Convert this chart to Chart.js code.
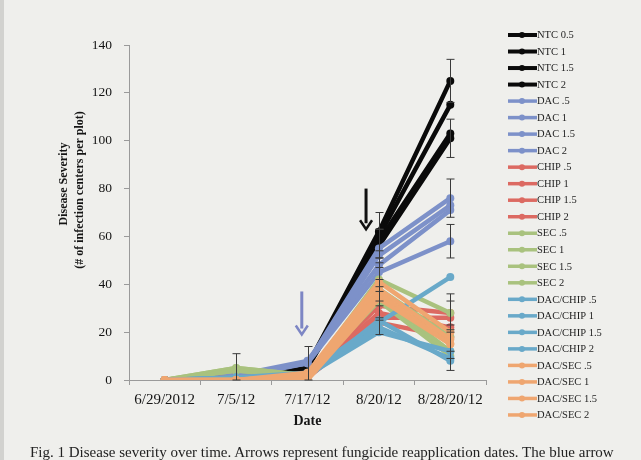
<!DOCTYPE html>
<html>
<head>
<meta charset="utf-8">
<script src="https://cdn.jsdelivr.net/npm/chart.js@4.4.0/dist/chart.umd.min.js"></script>
<style>
  html, body { margin: 0; padding: 0; background: #efefec; }
  #wrap { position: relative; width: 641px; height: 460px; overflow: hidden; background: #efefec; border-left: 4px solid #d2d2cf; box-sizing: border-box; }
  #chart { position: absolute; left: -4px; top: 0; }
  #caption { position: absolute; left: 26px; top: 444px; font: 15px/17px "Liberation Serif", serif; color: #222; white-space: nowrap; }
</style>
</head>
<body>
<div id="wrap">
  <canvas id="chart" width="641" height="460"></canvas>
  <div id="caption">Fig. 1 Disease severity over time. Arrows represent fungicide reapplication dates. The blue arrow</div>
</div>
<script>
// dates on the x axis
const dates = ['6/29/2012', '7/5/12', '7/17/12', '8/20/12', '8/28/20/12'];
const yTicks = [0, 20, 40, 60, 80, 100, 120, 140];

// disease severity per treatment (# of infection centers per plot)
const ntc05 = [0, 1, 6, 62, 125];
const ntc1 = [0, 1, 5, 60, 115];
const ntc15 = [0, 1, 6, 58, 103];
const ntc2 = [0, 1, 5, 56, 101];
const dac05 = [0, 2, 7, 55, 76];
const dac1 = [0, 2, 7, 52, 73];
const dac15 = [0, 2, 8, 48, 71];
const dac2 = [0, 1, 7, 45, 58];
const chip05 = [0, 1, 2, 31, 28];
const chip1 = [0, 1, 1, 26, 26];
const chip15 = [0, 1, 2, 28, 22];
const chip2 = [0, 1, 1, 24, 18];
const sec05 = [0, 5, 2, 42, 28];
const sec1 = [0, 5, 2, 38, 18];
const sec15 = [0, 4, 1, 35, 12];
const sec2 = [0, 4, 2, 33, 10];
const dacChip05 = [0, 1, 3, 24, 43];
const dacChip1 = [0, 1, 2, 20, 12];
const dacChip15 = [0, 1, 2, 22, 9];
const dacChip2 = [0, 1, 1, 25, 8];
const dacSec05 = [0, 0, 3, 41, 20];
const dacSec1 = [0, 0, 2, 38, 17];
const dacSec15 = [0, 0, 2, 36, 15];
const dacSec2 = [0, 0, 0, 34, 15];

// error bars (+/-) for some treatments
const errNtc05 = [0, 0, 0, 8, 9];
const errNtc2 = [0, 0, 0, 7, 8];
const errDac05 = [0, 0, 7, 8, 8];
const errDac2 = [0, 0, 0, 6, 7];
const errChip05 = [0, 0, 0, 6, 5];
const errSec05 = [0, 6, 0, 9, 8];
const errDacChip2 = [0, 0, 0, 6, 4];
const errDacSec2 = [0, 0, 0, 8, 6];

// arrows: [category position, value top, value tip]
const blackArrow = [2.82, 80, 63];
const blueArrow = [1.92, 37, 19];

const yTitle = ['Disease Severity', '(# of infection centers per plot)'];

const colors = {
    ntc: '#0a0a0a',
    dac: '#7d91c9',
    chip: '#dc6a62',
    sec: '#a9c27e',
    dacChip: '#69a9c9',
    dacSec: '#efa670'
};

const series = [
    ['NTC 0.5', ntc05, colors.ntc, errNtc05],
    ['NTC 1', ntc1, colors.ntc],
    ['NTC 1.5', ntc15, colors.ntc],
    ['NTC 2', ntc2, colors.ntc, errNtc2],
    ['DAC .5', dac05, colors.dac, errDac05],
    ['DAC 1', dac1, colors.dac],
    ['DAC 1.5', dac15, colors.dac],
    ['DAC 2', dac2, colors.dac, errDac2],
    ['CHIP .5', chip05, colors.chip, errChip05],
    ['CHIP 1', chip1, colors.chip],
    ['CHIP 1.5', chip15, colors.chip],
    ['CHIP 2', chip2, colors.chip],
    ['SEC .5', sec05, colors.sec, errSec05],
    ['SEC 1', sec1, colors.sec],
    ['SEC 1.5', sec15, colors.sec],
    ['SEC 2', sec2, colors.sec],
    ['DAC/CHIP .5', dacChip05, colors.dacChip],
    ['DAC/CHIP 1', dacChip1, colors.dacChip],
    ['DAC/CHIP 1.5', dacChip15, colors.dacChip],
    ['DAC/CHIP 2', dacChip2, colors.dacChip, errDacChip2],
    ['DAC/SEC .5', dacSec05, colors.dacSec],
    ['DAC/SEC 1', dacSec1, colors.dacSec],
    ['DAC/SEC 1.5', dacSec15, colors.dacSec],
    ['DAC/SEC 2', dacSec2, colors.dacSec, errDacSec2]
];

const serif = '"Liberation Serif", "Times New Roman", serif';

// error bars drawn with the chart scales
const errorBarPlugin = {
    id: 'errorBars',
    afterDatasetsDraw(chart) {
        const {ctx, scales: {x, y}} = chart;
        ctx.save();
        ctx.strokeStyle = '#3a3a3a';
        ctx.lineWidth = 1;
        chart.data.datasets.forEach(ds => {
            if (!ds.errors) return;
            ds.data.forEach((v, j) => {
                const e = ds.errors[j];
                if (!e) return;
                const px = Math.round(x.getPixelForValue(j)) + 0.5;
                const top = y.getPixelForValue(v + e);
                const bot = y.getPixelForValue(Math.max(v - e, 0));
                ctx.beginPath();
                ctx.moveTo(px, top); ctx.lineTo(px, bot);
                ctx.moveTo(px - 4, top); ctx.lineTo(px + 4, top);
                ctx.moveTo(px - 4, bot); ctx.lineTo(px + 4, bot);
                ctx.stroke();
            });
        });
        ctx.restore();
    }
};

// reapplication arrows
function drawArrow(chart, def, color) {
    const {ctx, scales: {x, y}} = chart;
    const px = x.getPixelForValue(def[0]);
    const y1 = y.getPixelForValue(def[1]);
    const y2 = y.getPixelForValue(def[2]);
    ctx.save();
    ctx.strokeStyle = color;
    ctx.lineWidth = 3;
    ctx.beginPath();
    ctx.moveTo(px, y1); ctx.lineTo(px, y2 - 6);
    ctx.stroke();
    ctx.beginPath();
    ctx.moveTo(px - 6, y2 - 9);
    ctx.lineTo(px, y2);
    ctx.lineTo(px + 6, y2 - 9);
    ctx.lineWidth = 2.5;
    ctx.stroke();
    ctx.restore();
}

const arrowPlugin = {
    id: 'arrows',
    afterDraw(chart) {
        drawArrow(chart, blackArrow, '#111');
        drawArrow(chart, blueArrow, '#7d86c4');
    }
};

// rotated two-line y title, sitting a bit above the middle like the original
const yTitlePlugin = {
    id: 'yTitle',
    afterDraw(chart) {
        const ctx = chart.ctx;
        ctx.save();
        ctx.font = 'bold 12px ' + serif;
        ctx.fillStyle = '#151515';
        ctx.textAlign = 'center';
        ctx.textBaseline = 'middle';
        ctx.translate(64, 184);
        ctx.rotate(-Math.PI / 2);
        ctx.fillText(yTitle[0], 0, 0);
        ctx.fillText(yTitle[1], -6, 16);
        ctx.restore();
    }
};

// legend down the right side, like the spreadsheet one
const sideLegend = {
    id: 'sideLegend',
    afterDraw(chart) {
        const ctx = chart.ctx;
        ctx.save();
        ctx.font = '10.5px ' + serif;
        ctx.textBaseline = 'middle';
        chart.data.datasets.forEach((ds, i) => {
            const yy = 35 + i * 16.52;
            ctx.strokeStyle = ds.borderColor;
            ctx.lineWidth = ds.borderColor === colors.ntc ? 4 : 3.5;
            ctx.beginPath();
            ctx.moveTo(508, yy); ctx.lineTo(537, yy);
            ctx.stroke();
            ctx.fillStyle = ds.borderColor;
            ctx.beginPath();
            ctx.arc(522, yy, 3, 0, Math.PI * 2);
            ctx.fill();
            ctx.fillStyle = '#1e1e1e';
            ctx.fillText(ds.label, 537, yy + 0.5);
        });
        ctx.restore();
    }
};

const ctx = document.getElementById('chart').getContext('2d');
new Chart(ctx, {
    type: 'line',
    data: {
        labels: dates,
        datasets: series.map(([label, data, color, errors], i) => ({
            label,
            data,
            errors,
            borderColor: color,
            backgroundColor: color,
            borderWidth: 4.5,
            pointRadius: 4,
            pointBorderWidth: 0,
            pointBackgroundColor: color,
            tension: 0,
            order: series.length - i
        }))
    },
    options: {
        responsive: false,
        animation: false,
        layout: { padding: { left: 0, top: 45, right: 155, bottom: 30 } },
        plugins: {
            legend: { display: false },
            tooltip: { enabled: false }
        },
        scales: {
            x: {
                offset: true,
                afterFit: s => { s.height = 50; },
                grid: { drawOnChartArea: false, drawTicks: true, tickLength: 5, color: '#9a9a9a', offset: true },
                border: { display: true, color: '#9a9a9a' },
                ticks: { color: '#151515', font: { family: serif, size: 15 }, padding: 6, maxRotation: 0 },
                title: { display: true, text: 'Date', color: '#151515', font: { family: serif, size: 14, weight: 'bold' }, padding: { top: 0, bottom: 0 } }
            },
            y: {
                min: 0,
                max: 140,
                afterFit: s => { s.width = 129; },
                afterBuildTicks: s => { s.ticks = yTicks.map(v => ({ value: v })); },
                grid: { drawOnChartArea: false, drawTicks: true, tickLength: 5, color: '#9a9a9a' },
                border: { display: true, color: '#9a9a9a' },
                ticks: { color: '#151515', font: { family: serif, size: 13.5 }, padding: 12 }
            }
        }
    },
    plugins: [errorBarPlugin, arrowPlugin, yTitlePlugin, sideLegend]
});
</script>
</body>
</html>
